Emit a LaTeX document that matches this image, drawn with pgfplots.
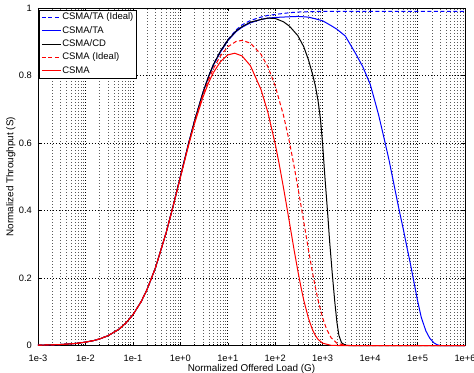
\documentclass[border=0pt]{standalone}
\usepackage{fontspec}
\setmainfont{Liberation Sans}
\usepackage{pgfplots}
\pgfplotsset{compat=1.18}
\newcommand{\lf}{\fontsize{9.5bp}{11bp}\selectfont}
\newcommand{\af}{\fontsize{9.9bp}{11bp}\selectfont}
\begin{document}
\fontsize{9bp}{11bp}\selectfont
\begin{tikzpicture}
\begin{axis}[
  name=ax,
  scale only axis,
  width=427bp, height=337.5bp,
  xmode=log,
  xmin=1e-3, xmax=1e6,
  ymin=0, ymax=1,
  clip=false,
  axis line style={black, line width=0.6bp},
  xtick={1e-3,1e-2,1e-1,1,1e1,1e2,1e3,1e4,1e5,1e6},
  xticklabels={1e-3,1e-2,1e-1,1e+0,1e+1,1e+2,1e+3,1e+4,1e+5,1e+6},
  minor xtick={2e-3,3e-3,4e-3,5e-3,6e-3,7e-3,8e-3,9e-3,
               2e-2,3e-2,4e-2,5e-2,6e-2,7e-2,8e-2,9e-2,
               2e-1,3e-1,4e-1,5e-1,6e-1,7e-1,8e-1,9e-1,
               2,3,4,5,6,7,8,9,
               20,30,40,50,60,70,80,90,
               200,300,400,500,600,700,800,900,
               2e3,3e3,4e3,5e3,6e3,7e3,8e3,9e3,
               2e4,3e4,4e4,5e4,6e4,7e4,8e4,9e4,
               2e5,3e5,4e5,5e5,6e5,7e5,8e5,9e5},
  ytick={0,0.2,0.4,0.6,0.8,1},
  yticklabels={0,0.2,0.4,0.6,0.8,1},
  tick align=inside,
  major tick length=3bp,
  minor tick length=1.5bp,
  tick style={black, line width=0.5bp},
  grid=both,
  major grid style={black, line width=0.6bp, dash pattern=on 0.7bp off 2.3bp},
  minor grid style={black!65, line width=0.6bp, dash pattern=on 0.7bp off 2.3bp},
  xticklabel style={anchor=base, yshift=-16bp, font=\fontsize{9.3bp}{11bp}\selectfont},
  yticklabel style={anchor=east, xshift=-3bp, font=\fontsize{9.3bp}{11bp}\selectfont},
  every axis x label/.style={at={([yshift=-25.5bp]rel axis cs:0.5,0)}, anchor=base, font=\af},
  every axis y label/.style={at={([xshift=-24.5bp]rel axis cs:0,0.5)}, rotate=90, anchor=base, font=\af},
  xlabel={Normalized Offered Load (G)},
  ylabel={Normalized Throughput (S)},
  legend cell align=left,
  legend image code/.code={\draw[#1] (0bp,0bp) -- (19bp,0bp);},
  legend style={at={(rel axis cs:0,1)}, anchor=north west, xshift=1.5bp, yshift=-2bp,
    draw=black, line width=0.6bp, fill=white, inner xsep=1.5bp, inner ysep=1.5bp,
    font=\lf,
    nodes={inner sep=1bp, text height=7bp, text depth=2.2bp, font=\lf},
    row sep=2.2bp, column sep=0bp},
]
% CSMA/TA (Ideal)
\addplot[blue, line width=1bp, dash pattern=on 4bp off 2.5bp] coordinates {
(0.001,0.001)(0.002,0.002)(0.003,0.003)(0.005,0.005)(0.007,0.00695)(0.01,0.0099)
(0.015,0.0148)(0.02,0.0196)(0.03,0.0291)(0.05,0.0476)(0.07,0.0654)(0.1,0.0909)
(0.15,0.1304)(0.2,0.1667)(0.3,0.2308)(0.5,0.3333)(0.7,0.4118)(1,0.5)
(1.5,0.6)(2,0.667)(3,0.75)(4,0.80)(5,0.833)(7,0.872)(10,0.906)(15,0.935)
(20,0.95)(30,0.963)(50,0.973)(70,0.978)(100,0.981)(200,0.986)(300,0.988)
(500,0.989)(1000,0.99)(10000,0.99)(1000000,0.99)};
\addlegendentry{\lf CSMA/TA (Ideal)\hspace{9bp}}
% CSMA/TA
\addplot[blue, line width=1bp] coordinates {
(0.001,0.001)(0.002,0.002)(0.003,0.003)(0.005,0.005)(0.007,0.00695)(0.01,0.0099)
(0.015,0.0148)(0.02,0.0196)(0.03,0.0291)(0.05,0.0476)(0.07,0.0654)(0.1,0.0909)
(0.15,0.1304)(0.2,0.1667)(0.3,0.2308)(0.5,0.3333)(0.7,0.4118)(1,0.5)
(1.5,0.6)(2,0.666)(3,0.749)(4,0.799)(5,0.831)(7,0.869)(10,0.903)(15,0.930)
(20,0.943)(30,0.956)(50,0.966)(70,0.970)(100,0.972)(200,0.974)(300,0.975)
(500,0.973)(700,0.968)(1000,0.962)(1500,0.948)(2000,0.937)(3000,0.917)
(5000,0.864)(7000,0.826)(10000,0.775)(12000,0.735)(15000,0.685)(20000,0.61)
(25000,0.55)(30000,0.495)(40000,0.408)(50000,0.345)(60000,0.29)(70000,0.245)
(80000,0.203)(100000,0.133)(120000,0.083)(150000,0.043)(180000,0.022)
(220000,0.008)(260000,0.002)(300000,0)(1000000,0)};
\addlegendentry{\lf CSMA/TA}
% CSMA/CD
\addplot[black, line width=1bp] coordinates {
(0.001,0.001)(0.002,0.002)(0.003,0.003)(0.005,0.005)(0.007,0.00695)(0.01,0.0099)
(0.015,0.0148)(0.02,0.0196)(0.03,0.0291)(0.05,0.0476)(0.07,0.0654)(0.1,0.0909)
(0.15,0.1304)(0.2,0.1667)(0.3,0.2308)(0.5,0.3333)(0.7,0.4118)(1,0.5)
(1.5,0.6)(2,0.667)(3,0.75)(4,0.80)(5,0.833)(7,0.872)(10,0.905)(15,0.932)
(20,0.945)(30,0.958)(50,0.966)(70,0.970)(100,0.969)(150,0.959)(200,0.946)
(300,0.918)(400,0.885)(500,0.847)(600,0.808)(700,0.77)(800,0.725)(900,0.67)
(1000,0.595)(1100,0.51)(1200,0.44)(1300,0.375)(1400,0.31)(1600,0.21)
(1800,0.13)(2000,0.068)(2200,0.03)(2500,0.008)(3000,0.001)(3500,0)(1000000,0)};
\addlegendentry{\lf CSMA/CD}
% CSMA (Ideal)
\addplot[red, line width=1bp, dash pattern=on 4bp off 2.5bp] coordinates {
(0.001,0.001)(0.002,0.002)(0.003,0.003)(0.005,0.005)(0.007,0.00695)(0.01,0.0099)
(0.015,0.0148)(0.02,0.0196)(0.03,0.0291)(0.05,0.0476)(0.07,0.0654)(0.1,0.0909)
(0.15,0.1304)(0.2,0.1667)(0.3,0.2308)(0.5,0.3333)(0.7,0.4115)(1,0.498)
(1.5,0.598)(2,0.662)(3,0.743)(4,0.790)(5,0.821)(7,0.858)(10,0.885)(15,0.901)
(20,0.904)(30,0.896)(50,0.863)(70,0.826)(100,0.769)(150,0.681)(200,0.602)
(250,0.531)(300,0.469)(400,0.366)(500,0.285)(600,0.222)(700,0.173)(800,0.1346)
(1000,0.0817)(1200,0.0495)(1500,0.0234)(2000,0.0067)(3000,0.0005)(4000,0)(1000000,0)};
\addlegendentry{\lf CSMA (Ideal)}
% CSMA
\addplot[red, line width=1bp] coordinates {
(0.001,0.001)(0.002,0.002)(0.003,0.003)(0.005,0.005)(0.007,0.00695)(0.01,0.0099)
(0.015,0.0148)(0.02,0.0196)(0.03,0.0291)(0.05,0.0476)(0.07,0.0654)(0.1,0.0909)
(0.15,0.1304)(0.2,0.1667)(0.3,0.2308)(0.5,0.3331)(0.7,0.410)(1,0.497)
(1.5,0.594)(2,0.658)(3,0.736)(4,0.781)(5,0.809)(7,0.841)(10,0.861)(14,0.866)
(20,0.858)(30,0.829)(50,0.759)(70,0.691)(100,0.597)(120,0.541)(150,0.466)
(170,0.422)(200,0.364)(250,0.283)(300,0.221)(350,0.172)(400,0.134)(500,0.0813)
(600,0.0493)(700,0.0299)(800,0.0181)(1000,0.0067)(1500,0.0006)(2000,0)(1000000,0)};
\addlegendentry{\lf CSMA}
\end{axis}
\pgfresetboundingbox
\path ([xshift=-38bp,yshift=-27.5bp]ax.south west) rectangle ([xshift=9bp,yshift=8bp]ax.north east);
\end{tikzpicture}
\end{document}
